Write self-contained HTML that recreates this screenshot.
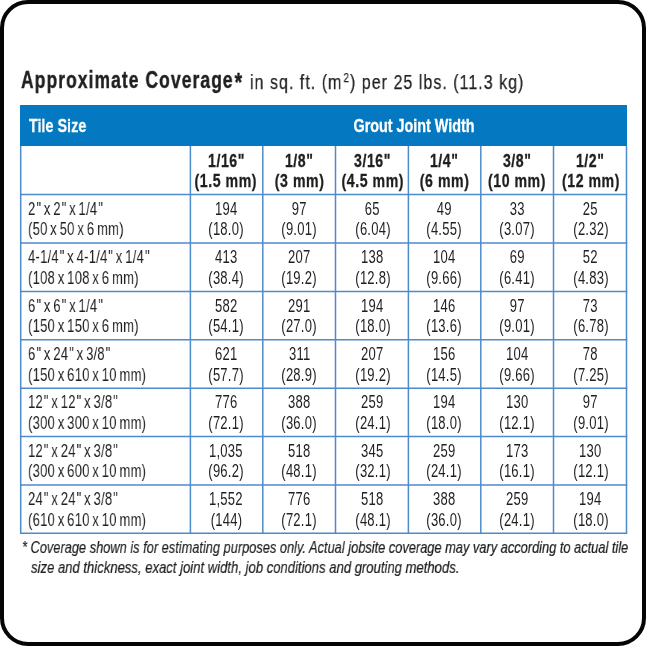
<!DOCTYPE html>
<html lang="en"><head><meta charset="utf-8"><title>Approximate Coverage</title>
<style>
html,body{margin:0;padding:0;background:#fff}
body{width:646px;height:646px;position:relative;overflow:hidden}
.frame{position:absolute;left:0;top:0;width:646px;height:646px;box-sizing:border-box;border:4px solid #050505;border-radius:28px}
.t,.c{position:absolute;white-space:nowrap;will-change:transform;font-family:"Liberation Sans",Arial,sans-serif;line-height:1}
.t{transform-origin:0 0}
.c{text-align:center}
.c span{display:inline-block;transform-origin:center}
.hd{position:absolute;background:#0479c1}
svg{position:absolute;left:0;top:0}
.b{font-weight:bold}
.w{color:#fff}
.k{color:#1f1f1f}
.i{font-style:italic}
.q{position:relative;left:1.2px;margin-right:1px}
</style></head><body>
<div class="frame"></div>

<div class="t k b" style="left:20.6px;top:69.03px;font-size:23px;letter-spacing:1.4px;-webkit-text-stroke:0.4px #1f1f1f;transform:scaleX(0.76)">Approximate Coverage<span style="display:inline-block;transform:translate(1.5px,2px) scale(1.12)">*</span></div>
<div class="t k" style="left:250.0px;top:71.57px;font-size:20px;letter-spacing:1.28px;-webkit-text-stroke:0.25px #1f1f1f;transform:scaleX(0.80)">in sq. ft. (m<span style="font-size:0.6em;position:relative;top:-0.6em;margin-left:1.5px">2</span>) per 25 lbs. (11.3 kg)</div>
<div class="hd" style="left:20px;top:105px;width:607px;height:41px"></div>
<div class="t b w" style="left:28.50px;top:117.04px;font-size:18.5px;transform:scaleX(0.776);-webkit-text-stroke:0.3px #fff">Tile Size</div>
<div class="c b w" style="left:150.40px;top:117.04px;width:516.10px;font-size:18.5px;margin-left:6px;-webkit-text-stroke:0.3px #fff"><span style="transform:scaleX(0.776);">Grout Joint Width</span></div>
<svg width="646" height="646" viewBox="0 0 646 646"><g stroke="#4d8bcb" stroke-width="1.5" fill="none"><line x1="19.95" y1="194.6" x2="627.25" y2="194.6"/><line x1="19.95" y1="243.0" x2="627.25" y2="243.0"/><line x1="19.95" y1="291.4" x2="627.25" y2="291.4"/><line x1="19.95" y1="339.8" x2="627.25" y2="339.8"/><line x1="19.95" y1="388.2" x2="627.25" y2="388.2"/><line x1="19.95" y1="436.5" x2="627.25" y2="436.5"/><line x1="19.95" y1="484.9" x2="627.25" y2="484.9"/><line x1="19.95" y1="533.3" x2="627.25" y2="533.3"/><line x1="20.7" y1="146" x2="20.7" y2="533.3"/><line x1="190.4" y1="146" x2="190.4" y2="533.3"/><line x1="262.8" y1="146" x2="262.8" y2="533.3"/><line x1="335.5" y1="146" x2="335.5" y2="533.3"/><line x1="408.4" y1="146" x2="408.4" y2="533.3"/><line x1="480.8" y1="146" x2="480.8" y2="533.3"/><line x1="553.5" y1="146" x2="553.5" y2="533.3"/><line x1="626.5" y1="146" x2="626.5" y2="533.3"/></g></svg>
<div class="c b k" style="left:150.40px;top:151.56px;width:152.40px;font-size:18px;letter-spacing:0.7px;-webkit-text-stroke:0.3px #1f1f1f"><span style="transform:scaleX(0.784);">1/16"</span></div>
<div class="c b k" style="left:150.40px;top:171.86px;width:152.40px;font-size:18px;letter-spacing:0.7px;-webkit-text-stroke:0.3px #1f1f1f"><span style="transform:scaleX(0.784);">(1.5 mm)</span></div>
<div class="c b k" style="left:222.80px;top:151.56px;width:152.70px;font-size:18px;letter-spacing:0.7px;-webkit-text-stroke:0.3px #1f1f1f"><span style="transform:scaleX(0.784);">1/8"</span></div>
<div class="c b k" style="left:222.80px;top:171.86px;width:152.70px;font-size:18px;letter-spacing:0.7px;-webkit-text-stroke:0.3px #1f1f1f"><span style="transform:scaleX(0.784);">(3 mm)</span></div>
<div class="c b k" style="left:295.50px;top:151.56px;width:152.90px;font-size:18px;letter-spacing:0.7px;-webkit-text-stroke:0.3px #1f1f1f"><span style="transform:scaleX(0.784);">3/16"</span></div>
<div class="c b k" style="left:295.50px;top:171.86px;width:152.90px;font-size:18px;letter-spacing:0.7px;-webkit-text-stroke:0.3px #1f1f1f"><span style="transform:scaleX(0.784);">(4.5 mm)</span></div>
<div class="c b k" style="left:368.40px;top:151.56px;width:152.40px;font-size:18px;letter-spacing:0.7px;-webkit-text-stroke:0.3px #1f1f1f"><span style="transform:scaleX(0.784);">1/4"</span></div>
<div class="c b k" style="left:368.40px;top:171.86px;width:152.40px;font-size:18px;letter-spacing:0.7px;-webkit-text-stroke:0.3px #1f1f1f"><span style="transform:scaleX(0.784);">(6 mm)</span></div>
<div class="c b k" style="left:440.80px;top:151.56px;width:152.70px;font-size:18px;letter-spacing:0.7px;-webkit-text-stroke:0.3px #1f1f1f"><span style="transform:scaleX(0.784);">3/8"</span></div>
<div class="c b k" style="left:440.80px;top:171.86px;width:152.70px;font-size:18px;letter-spacing:0.7px;-webkit-text-stroke:0.3px #1f1f1f"><span style="transform:scaleX(0.784);">(10 mm)</span></div>
<div class="c b k" style="left:513.50px;top:151.56px;width:153.00px;font-size:18px;letter-spacing:0.7px;-webkit-text-stroke:0.3px #1f1f1f"><span style="transform:scaleX(0.784);">1/2"</span></div>
<div class="c b k" style="left:513.50px;top:171.86px;width:153.00px;font-size:18px;letter-spacing:0.7px;-webkit-text-stroke:0.3px #1f1f1f"><span style="transform:scaleX(0.784);">(12 mm)</span></div>
<div class="t k" style="left:28.30px;top:200.79px;font-size:17.5px;transform:scaleX(0.745);letter-spacing:0.3px;word-spacing:-1.5px">2<span class="q">&quot;</span> x 2<span class="q">&quot;</span> x 1/4<span class="q">&quot;</span></div>
<div class="t k" style="left:28.30px;top:221.39px;font-size:17.5px;transform:scaleX(0.745);letter-spacing:0.3px;word-spacing:-1.5px">(50 x 50 x 6 mm)</div>
<div class="c k" style="left:150.40px;top:200.79px;width:152.40px;font-size:17.5px;letter-spacing:0.3px;word-spacing:-1.5px"><span style="transform:scaleX(0.745);padding-left:0.3px">194</span></div>
<div class="c k" style="left:150.40px;top:221.39px;width:152.40px;font-size:17.5px;letter-spacing:0.3px;word-spacing:-1.5px"><span style="transform:scaleX(0.745);padding-left:0.3px">(18.0)</span></div>
<div class="c k" style="left:222.80px;top:200.79px;width:152.70px;font-size:17.5px;letter-spacing:0.3px;word-spacing:-1.5px"><span style="transform:scaleX(0.745);padding-left:0.3px">97</span></div>
<div class="c k" style="left:222.80px;top:221.39px;width:152.70px;font-size:17.5px;letter-spacing:0.3px;word-spacing:-1.5px"><span style="transform:scaleX(0.745);padding-left:0.3px">(9.01)</span></div>
<div class="c k" style="left:295.50px;top:200.79px;width:152.90px;font-size:17.5px;letter-spacing:0.3px;word-spacing:-1.5px"><span style="transform:scaleX(0.745);padding-left:0.3px">65</span></div>
<div class="c k" style="left:295.50px;top:221.39px;width:152.90px;font-size:17.5px;letter-spacing:0.3px;word-spacing:-1.5px"><span style="transform:scaleX(0.745);padding-left:0.3px">(6.04)</span></div>
<div class="c k" style="left:368.40px;top:200.79px;width:152.40px;font-size:17.5px;letter-spacing:0.3px;word-spacing:-1.5px"><span style="transform:scaleX(0.745);padding-left:0.3px">49</span></div>
<div class="c k" style="left:368.40px;top:221.39px;width:152.40px;font-size:17.5px;letter-spacing:0.3px;word-spacing:-1.5px"><span style="transform:scaleX(0.745);padding-left:0.3px">(4.55)</span></div>
<div class="c k" style="left:440.80px;top:200.79px;width:152.70px;font-size:17.5px;letter-spacing:0.3px;word-spacing:-1.5px"><span style="transform:scaleX(0.745);padding-left:0.3px">33</span></div>
<div class="c k" style="left:440.80px;top:221.39px;width:152.70px;font-size:17.5px;letter-spacing:0.3px;word-spacing:-1.5px"><span style="transform:scaleX(0.745);padding-left:0.3px">(3.07)</span></div>
<div class="c k" style="left:513.50px;top:200.79px;width:153.00px;font-size:17.5px;letter-spacing:0.3px;word-spacing:-1.5px"><span style="transform:scaleX(0.745);padding-left:0.3px">25</span></div>
<div class="c k" style="left:513.50px;top:221.39px;width:153.00px;font-size:17.5px;letter-spacing:0.3px;word-spacing:-1.5px"><span style="transform:scaleX(0.745);padding-left:0.3px">(2.32)</span></div>
<div class="t k" style="left:28.30px;top:249.19px;font-size:17.5px;transform:scaleX(0.745);letter-spacing:0.3px;word-spacing:-1.5px">4-1/4<span class="q">&quot;</span> x 4-1/4<span class="q">&quot;</span> x 1/4<span class="q">&quot;</span></div>
<div class="t k" style="left:28.30px;top:269.79px;font-size:17.5px;transform:scaleX(0.745);letter-spacing:0.3px;word-spacing:-1.5px">(108 x 108 x 6 mm)</div>
<div class="c k" style="left:150.40px;top:249.19px;width:152.40px;font-size:17.5px;letter-spacing:0.3px;word-spacing:-1.5px"><span style="transform:scaleX(0.745);padding-left:0.3px">413</span></div>
<div class="c k" style="left:150.40px;top:269.79px;width:152.40px;font-size:17.5px;letter-spacing:0.3px;word-spacing:-1.5px"><span style="transform:scaleX(0.745);padding-left:0.3px">(38.4)</span></div>
<div class="c k" style="left:222.80px;top:249.19px;width:152.70px;font-size:17.5px;letter-spacing:0.3px;word-spacing:-1.5px"><span style="transform:scaleX(0.745);padding-left:0.3px">207</span></div>
<div class="c k" style="left:222.80px;top:269.79px;width:152.70px;font-size:17.5px;letter-spacing:0.3px;word-spacing:-1.5px"><span style="transform:scaleX(0.745);padding-left:0.3px">(19.2)</span></div>
<div class="c k" style="left:295.50px;top:249.19px;width:152.90px;font-size:17.5px;letter-spacing:0.3px;word-spacing:-1.5px"><span style="transform:scaleX(0.745);padding-left:0.3px">138</span></div>
<div class="c k" style="left:295.50px;top:269.79px;width:152.90px;font-size:17.5px;letter-spacing:0.3px;word-spacing:-1.5px"><span style="transform:scaleX(0.745);padding-left:0.3px">(12.8)</span></div>
<div class="c k" style="left:368.40px;top:249.19px;width:152.40px;font-size:17.5px;letter-spacing:0.3px;word-spacing:-1.5px"><span style="transform:scaleX(0.745);padding-left:0.3px">104</span></div>
<div class="c k" style="left:368.40px;top:269.79px;width:152.40px;font-size:17.5px;letter-spacing:0.3px;word-spacing:-1.5px"><span style="transform:scaleX(0.745);padding-left:0.3px">(9.66)</span></div>
<div class="c k" style="left:440.80px;top:249.19px;width:152.70px;font-size:17.5px;letter-spacing:0.3px;word-spacing:-1.5px"><span style="transform:scaleX(0.745);padding-left:0.3px">69</span></div>
<div class="c k" style="left:440.80px;top:269.79px;width:152.70px;font-size:17.5px;letter-spacing:0.3px;word-spacing:-1.5px"><span style="transform:scaleX(0.745);padding-left:0.3px">(6.41)</span></div>
<div class="c k" style="left:513.50px;top:249.19px;width:153.00px;font-size:17.5px;letter-spacing:0.3px;word-spacing:-1.5px"><span style="transform:scaleX(0.745);padding-left:0.3px">52</span></div>
<div class="c k" style="left:513.50px;top:269.79px;width:153.00px;font-size:17.5px;letter-spacing:0.3px;word-spacing:-1.5px"><span style="transform:scaleX(0.745);padding-left:0.3px">(4.83)</span></div>
<div class="t k" style="left:28.30px;top:297.59px;font-size:17.5px;transform:scaleX(0.745);letter-spacing:0.3px;word-spacing:-1.5px">6<span class="q">&quot;</span> x 6<span class="q">&quot;</span> x 1/4<span class="q">&quot;</span></div>
<div class="t k" style="left:28.30px;top:318.19px;font-size:17.5px;transform:scaleX(0.745);letter-spacing:0.3px;word-spacing:-1.5px">(150 x 150 x 6 mm)</div>
<div class="c k" style="left:150.40px;top:297.59px;width:152.40px;font-size:17.5px;letter-spacing:0.3px;word-spacing:-1.5px"><span style="transform:scaleX(0.745);padding-left:0.3px">582</span></div>
<div class="c k" style="left:150.40px;top:318.19px;width:152.40px;font-size:17.5px;letter-spacing:0.3px;word-spacing:-1.5px"><span style="transform:scaleX(0.745);padding-left:0.3px">(54.1)</span></div>
<div class="c k" style="left:222.80px;top:297.59px;width:152.70px;font-size:17.5px;letter-spacing:0.3px;word-spacing:-1.5px"><span style="transform:scaleX(0.745);padding-left:0.3px">291</span></div>
<div class="c k" style="left:222.80px;top:318.19px;width:152.70px;font-size:17.5px;letter-spacing:0.3px;word-spacing:-1.5px"><span style="transform:scaleX(0.745);padding-left:0.3px">(27.0)</span></div>
<div class="c k" style="left:295.50px;top:297.59px;width:152.90px;font-size:17.5px;letter-spacing:0.3px;word-spacing:-1.5px"><span style="transform:scaleX(0.745);padding-left:0.3px">194</span></div>
<div class="c k" style="left:295.50px;top:318.19px;width:152.90px;font-size:17.5px;letter-spacing:0.3px;word-spacing:-1.5px"><span style="transform:scaleX(0.745);padding-left:0.3px">(18.0)</span></div>
<div class="c k" style="left:368.40px;top:297.59px;width:152.40px;font-size:17.5px;letter-spacing:0.3px;word-spacing:-1.5px"><span style="transform:scaleX(0.745);padding-left:0.3px">146</span></div>
<div class="c k" style="left:368.40px;top:318.19px;width:152.40px;font-size:17.5px;letter-spacing:0.3px;word-spacing:-1.5px"><span style="transform:scaleX(0.745);padding-left:0.3px">(13.6)</span></div>
<div class="c k" style="left:440.80px;top:297.59px;width:152.70px;font-size:17.5px;letter-spacing:0.3px;word-spacing:-1.5px"><span style="transform:scaleX(0.745);padding-left:0.3px">97</span></div>
<div class="c k" style="left:440.80px;top:318.19px;width:152.70px;font-size:17.5px;letter-spacing:0.3px;word-spacing:-1.5px"><span style="transform:scaleX(0.745);padding-left:0.3px">(9.01)</span></div>
<div class="c k" style="left:513.50px;top:297.59px;width:153.00px;font-size:17.5px;letter-spacing:0.3px;word-spacing:-1.5px"><span style="transform:scaleX(0.745);padding-left:0.3px">73</span></div>
<div class="c k" style="left:513.50px;top:318.19px;width:153.00px;font-size:17.5px;letter-spacing:0.3px;word-spacing:-1.5px"><span style="transform:scaleX(0.745);padding-left:0.3px">(6.78)</span></div>
<div class="t k" style="left:28.30px;top:345.99px;font-size:17.5px;transform:scaleX(0.745);letter-spacing:0.3px;word-spacing:-1.5px">6<span class="q">&quot;</span> x 24<span class="q">&quot;</span> x 3/8<span class="q">&quot;</span></div>
<div class="t k" style="left:28.30px;top:366.59px;font-size:17.5px;transform:scaleX(0.745);letter-spacing:0.3px;word-spacing:-1.5px">(150 x 610 x 10 mm)</div>
<div class="c k" style="left:150.40px;top:345.99px;width:152.40px;font-size:17.5px;letter-spacing:0.3px;word-spacing:-1.5px"><span style="transform:scaleX(0.745);padding-left:0.3px">621</span></div>
<div class="c k" style="left:150.40px;top:366.59px;width:152.40px;font-size:17.5px;letter-spacing:0.3px;word-spacing:-1.5px"><span style="transform:scaleX(0.745);padding-left:0.3px">(57.7)</span></div>
<div class="c k" style="left:222.80px;top:345.99px;width:152.70px;font-size:17.5px;letter-spacing:0.3px;word-spacing:-1.5px"><span style="transform:scaleX(0.745);padding-left:0.3px">311</span></div>
<div class="c k" style="left:222.80px;top:366.59px;width:152.70px;font-size:17.5px;letter-spacing:0.3px;word-spacing:-1.5px"><span style="transform:scaleX(0.745);padding-left:0.3px">(28.9)</span></div>
<div class="c k" style="left:295.50px;top:345.99px;width:152.90px;font-size:17.5px;letter-spacing:0.3px;word-spacing:-1.5px"><span style="transform:scaleX(0.745);padding-left:0.3px">207</span></div>
<div class="c k" style="left:295.50px;top:366.59px;width:152.90px;font-size:17.5px;letter-spacing:0.3px;word-spacing:-1.5px"><span style="transform:scaleX(0.745);padding-left:0.3px">(19.2)</span></div>
<div class="c k" style="left:368.40px;top:345.99px;width:152.40px;font-size:17.5px;letter-spacing:0.3px;word-spacing:-1.5px"><span style="transform:scaleX(0.745);padding-left:0.3px">156</span></div>
<div class="c k" style="left:368.40px;top:366.59px;width:152.40px;font-size:17.5px;letter-spacing:0.3px;word-spacing:-1.5px"><span style="transform:scaleX(0.745);padding-left:0.3px">(14.5)</span></div>
<div class="c k" style="left:440.80px;top:345.99px;width:152.70px;font-size:17.5px;letter-spacing:0.3px;word-spacing:-1.5px"><span style="transform:scaleX(0.745);padding-left:0.3px">104</span></div>
<div class="c k" style="left:440.80px;top:366.59px;width:152.70px;font-size:17.5px;letter-spacing:0.3px;word-spacing:-1.5px"><span style="transform:scaleX(0.745);padding-left:0.3px">(9.66)</span></div>
<div class="c k" style="left:513.50px;top:345.99px;width:153.00px;font-size:17.5px;letter-spacing:0.3px;word-spacing:-1.5px"><span style="transform:scaleX(0.745);padding-left:0.3px">78</span></div>
<div class="c k" style="left:513.50px;top:366.59px;width:153.00px;font-size:17.5px;letter-spacing:0.3px;word-spacing:-1.5px"><span style="transform:scaleX(0.745);padding-left:0.3px">(7.25)</span></div>
<div class="t k" style="left:28.30px;top:394.39px;font-size:17.5px;transform:scaleX(0.745);letter-spacing:0.3px;word-spacing:-1.5px">12<span class="q">&quot;</span> x 12<span class="q">&quot;</span> x 3/8<span class="q">&quot;</span></div>
<div class="t k" style="left:28.30px;top:414.99px;font-size:17.5px;transform:scaleX(0.745);letter-spacing:0.3px;word-spacing:-1.5px">(300 x 300 x 10 mm)</div>
<div class="c k" style="left:150.40px;top:394.39px;width:152.40px;font-size:17.5px;letter-spacing:0.3px;word-spacing:-1.5px"><span style="transform:scaleX(0.745);padding-left:0.3px">776</span></div>
<div class="c k" style="left:150.40px;top:414.99px;width:152.40px;font-size:17.5px;letter-spacing:0.3px;word-spacing:-1.5px"><span style="transform:scaleX(0.745);padding-left:0.3px">(72.1)</span></div>
<div class="c k" style="left:222.80px;top:394.39px;width:152.70px;font-size:17.5px;letter-spacing:0.3px;word-spacing:-1.5px"><span style="transform:scaleX(0.745);padding-left:0.3px">388</span></div>
<div class="c k" style="left:222.80px;top:414.99px;width:152.70px;font-size:17.5px;letter-spacing:0.3px;word-spacing:-1.5px"><span style="transform:scaleX(0.745);padding-left:0.3px">(36.0)</span></div>
<div class="c k" style="left:295.50px;top:394.39px;width:152.90px;font-size:17.5px;letter-spacing:0.3px;word-spacing:-1.5px"><span style="transform:scaleX(0.745);padding-left:0.3px">259</span></div>
<div class="c k" style="left:295.50px;top:414.99px;width:152.90px;font-size:17.5px;letter-spacing:0.3px;word-spacing:-1.5px"><span style="transform:scaleX(0.745);padding-left:0.3px">(24.1)</span></div>
<div class="c k" style="left:368.40px;top:394.39px;width:152.40px;font-size:17.5px;letter-spacing:0.3px;word-spacing:-1.5px"><span style="transform:scaleX(0.745);padding-left:0.3px">194</span></div>
<div class="c k" style="left:368.40px;top:414.99px;width:152.40px;font-size:17.5px;letter-spacing:0.3px;word-spacing:-1.5px"><span style="transform:scaleX(0.745);padding-left:0.3px">(18.0)</span></div>
<div class="c k" style="left:440.80px;top:394.39px;width:152.70px;font-size:17.5px;letter-spacing:0.3px;word-spacing:-1.5px"><span style="transform:scaleX(0.745);padding-left:0.3px">130</span></div>
<div class="c k" style="left:440.80px;top:414.99px;width:152.70px;font-size:17.5px;letter-spacing:0.3px;word-spacing:-1.5px"><span style="transform:scaleX(0.745);padding-left:0.3px">(12.1)</span></div>
<div class="c k" style="left:513.50px;top:394.39px;width:153.00px;font-size:17.5px;letter-spacing:0.3px;word-spacing:-1.5px"><span style="transform:scaleX(0.745);padding-left:0.3px">97</span></div>
<div class="c k" style="left:513.50px;top:414.99px;width:153.00px;font-size:17.5px;letter-spacing:0.3px;word-spacing:-1.5px"><span style="transform:scaleX(0.745);padding-left:0.3px">(9.01)</span></div>
<div class="t k" style="left:28.30px;top:442.69px;font-size:17.5px;transform:scaleX(0.745);letter-spacing:0.3px;word-spacing:-1.5px">12<span class="q">&quot;</span> x 24<span class="q">&quot;</span> x 3/8<span class="q">&quot;</span></div>
<div class="t k" style="left:28.30px;top:463.29px;font-size:17.5px;transform:scaleX(0.745);letter-spacing:0.3px;word-spacing:-1.5px">(300 x 600 x 10 mm)</div>
<div class="c k" style="left:150.40px;top:442.69px;width:152.40px;font-size:17.5px;letter-spacing:0.3px;word-spacing:-1.5px"><span style="transform:scaleX(0.745);padding-left:0.3px">1,035</span></div>
<div class="c k" style="left:150.40px;top:463.29px;width:152.40px;font-size:17.5px;letter-spacing:0.3px;word-spacing:-1.5px"><span style="transform:scaleX(0.745);padding-left:0.3px">(96.2)</span></div>
<div class="c k" style="left:222.80px;top:442.69px;width:152.70px;font-size:17.5px;letter-spacing:0.3px;word-spacing:-1.5px"><span style="transform:scaleX(0.745);padding-left:0.3px">518</span></div>
<div class="c k" style="left:222.80px;top:463.29px;width:152.70px;font-size:17.5px;letter-spacing:0.3px;word-spacing:-1.5px"><span style="transform:scaleX(0.745);padding-left:0.3px">(48.1)</span></div>
<div class="c k" style="left:295.50px;top:442.69px;width:152.90px;font-size:17.5px;letter-spacing:0.3px;word-spacing:-1.5px"><span style="transform:scaleX(0.745);padding-left:0.3px">345</span></div>
<div class="c k" style="left:295.50px;top:463.29px;width:152.90px;font-size:17.5px;letter-spacing:0.3px;word-spacing:-1.5px"><span style="transform:scaleX(0.745);padding-left:0.3px">(32.1)</span></div>
<div class="c k" style="left:368.40px;top:442.69px;width:152.40px;font-size:17.5px;letter-spacing:0.3px;word-spacing:-1.5px"><span style="transform:scaleX(0.745);padding-left:0.3px">259</span></div>
<div class="c k" style="left:368.40px;top:463.29px;width:152.40px;font-size:17.5px;letter-spacing:0.3px;word-spacing:-1.5px"><span style="transform:scaleX(0.745);padding-left:0.3px">(24.1)</span></div>
<div class="c k" style="left:440.80px;top:442.69px;width:152.70px;font-size:17.5px;letter-spacing:0.3px;word-spacing:-1.5px"><span style="transform:scaleX(0.745);padding-left:0.3px">173</span></div>
<div class="c k" style="left:440.80px;top:463.29px;width:152.70px;font-size:17.5px;letter-spacing:0.3px;word-spacing:-1.5px"><span style="transform:scaleX(0.745);padding-left:0.3px">(16.1)</span></div>
<div class="c k" style="left:513.50px;top:442.69px;width:153.00px;font-size:17.5px;letter-spacing:0.3px;word-spacing:-1.5px"><span style="transform:scaleX(0.745);padding-left:0.3px">130</span></div>
<div class="c k" style="left:513.50px;top:463.29px;width:153.00px;font-size:17.5px;letter-spacing:0.3px;word-spacing:-1.5px"><span style="transform:scaleX(0.745);padding-left:0.3px">(12.1)</span></div>
<div class="t k" style="left:28.30px;top:491.09px;font-size:17.5px;transform:scaleX(0.745);letter-spacing:0.3px;word-spacing:-1.5px">24<span class="q">&quot;</span> x 24<span class="q">&quot;</span> x 3/8<span class="q">&quot;</span></div>
<div class="t k" style="left:28.30px;top:511.69px;font-size:17.5px;transform:scaleX(0.745);letter-spacing:0.3px;word-spacing:-1.5px">(610 x 610 x 10 mm)</div>
<div class="c k" style="left:150.40px;top:491.09px;width:152.40px;font-size:17.5px;letter-spacing:0.3px;word-spacing:-1.5px"><span style="transform:scaleX(0.745);padding-left:0.3px">1,552</span></div>
<div class="c k" style="left:150.40px;top:511.69px;width:152.40px;font-size:17.5px;letter-spacing:0.3px;word-spacing:-1.5px"><span style="transform:scaleX(0.745);padding-left:0.3px">(144)</span></div>
<div class="c k" style="left:222.80px;top:491.09px;width:152.70px;font-size:17.5px;letter-spacing:0.3px;word-spacing:-1.5px"><span style="transform:scaleX(0.745);padding-left:0.3px">776</span></div>
<div class="c k" style="left:222.80px;top:511.69px;width:152.70px;font-size:17.5px;letter-spacing:0.3px;word-spacing:-1.5px"><span style="transform:scaleX(0.745);padding-left:0.3px">(72.1)</span></div>
<div class="c k" style="left:295.50px;top:491.09px;width:152.90px;font-size:17.5px;letter-spacing:0.3px;word-spacing:-1.5px"><span style="transform:scaleX(0.745);padding-left:0.3px">518</span></div>
<div class="c k" style="left:295.50px;top:511.69px;width:152.90px;font-size:17.5px;letter-spacing:0.3px;word-spacing:-1.5px"><span style="transform:scaleX(0.745);padding-left:0.3px">(48.1)</span></div>
<div class="c k" style="left:368.40px;top:491.09px;width:152.40px;font-size:17.5px;letter-spacing:0.3px;word-spacing:-1.5px"><span style="transform:scaleX(0.745);padding-left:0.3px">388</span></div>
<div class="c k" style="left:368.40px;top:511.69px;width:152.40px;font-size:17.5px;letter-spacing:0.3px;word-spacing:-1.5px"><span style="transform:scaleX(0.745);padding-left:0.3px">(36.0)</span></div>
<div class="c k" style="left:440.80px;top:491.09px;width:152.70px;font-size:17.5px;letter-spacing:0.3px;word-spacing:-1.5px"><span style="transform:scaleX(0.745);padding-left:0.3px">259</span></div>
<div class="c k" style="left:440.80px;top:511.69px;width:152.70px;font-size:17.5px;letter-spacing:0.3px;word-spacing:-1.5px"><span style="transform:scaleX(0.745);padding-left:0.3px">(24.1)</span></div>
<div class="c k" style="left:513.50px;top:491.09px;width:153.00px;font-size:17.5px;letter-spacing:0.3px;word-spacing:-1.5px"><span style="transform:scaleX(0.745);padding-left:0.3px">194</span></div>
<div class="c k" style="left:513.50px;top:511.69px;width:153.00px;font-size:17.5px;letter-spacing:0.3px;word-spacing:-1.5px"><span style="transform:scaleX(0.745);padding-left:0.3px">(18.0)</span></div>
<div class="t i k" style="left:21.80px;top:539.33px;font-size:16.5px;transform:scaleX(0.7767);-webkit-text-stroke:0.2px #1f1f1f">* Coverage shown is for estimating purposes only. Actual jobsite coverage may vary according to actual tile</div>
<div class="t i k" style="left:31.00px;top:558.93px;font-size:16.5px;transform:scaleX(0.793);-webkit-text-stroke:0.2px #1f1f1f">size and thickness, exact joint width, job conditions and grouting methods.</div>
</body></html>
